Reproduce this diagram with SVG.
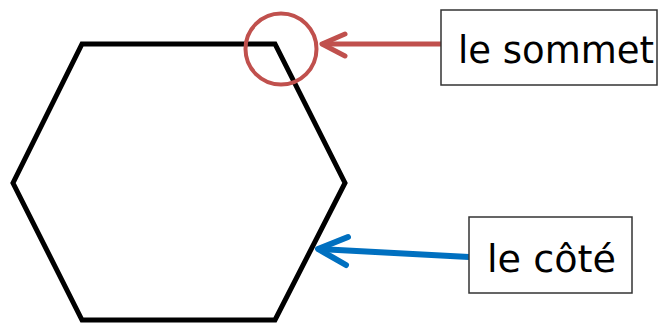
<svg xmlns="http://www.w3.org/2000/svg" width="660" height="323" viewBox="0 0 660 323">
<style>
.lbl{font-family:"DejaVu Sans","Liberation Sans",sans-serif;font-size:37px;fill:#000}
.box{fill:#fff;stroke:#333;stroke-width:1.5}
</style>
<rect width="660" height="323" fill="#fff"/>
<g id="hexagon">
<polygon points="82,44 275,44 345,183 275,320 82,320 13,183" fill="none" stroke="#000" stroke-width="5" stroke-linejoin="miter"/>
</g>
<g id="vertex-marker">
<circle cx="281" cy="49" r="35.5" fill="none" stroke="#c0504d" stroke-width="4"/>
</g>
<g id="connectors" fill="none" stroke-linecap="round" stroke-linejoin="round">
<g stroke="#c0504d" stroke-width="5">
<line x1="441" y1="44" x2="323" y2="44"/>
<polyline points="345,34 322,44 345,56"/>
</g>
<g stroke="#0070c0" stroke-width="6">
<line x1="469" y1="257" x2="319" y2="249"/>
<polyline points="348,237 318,249 346,265"/>
</g>
</g>
<g id="label-sommet">
<rect class="box" x="441" y="10" width="216" height="75"/>
<text class="lbl" x="458" y="63">le sommet</text>
</g>
<g id="label-cote">
<rect class="box" x="469" y="217" width="163" height="76"/>
<text class="lbl" x="487" y="272" textLength="129" lengthAdjust="spacingAndGlyphs">le côté</text>
</g>
</svg>
